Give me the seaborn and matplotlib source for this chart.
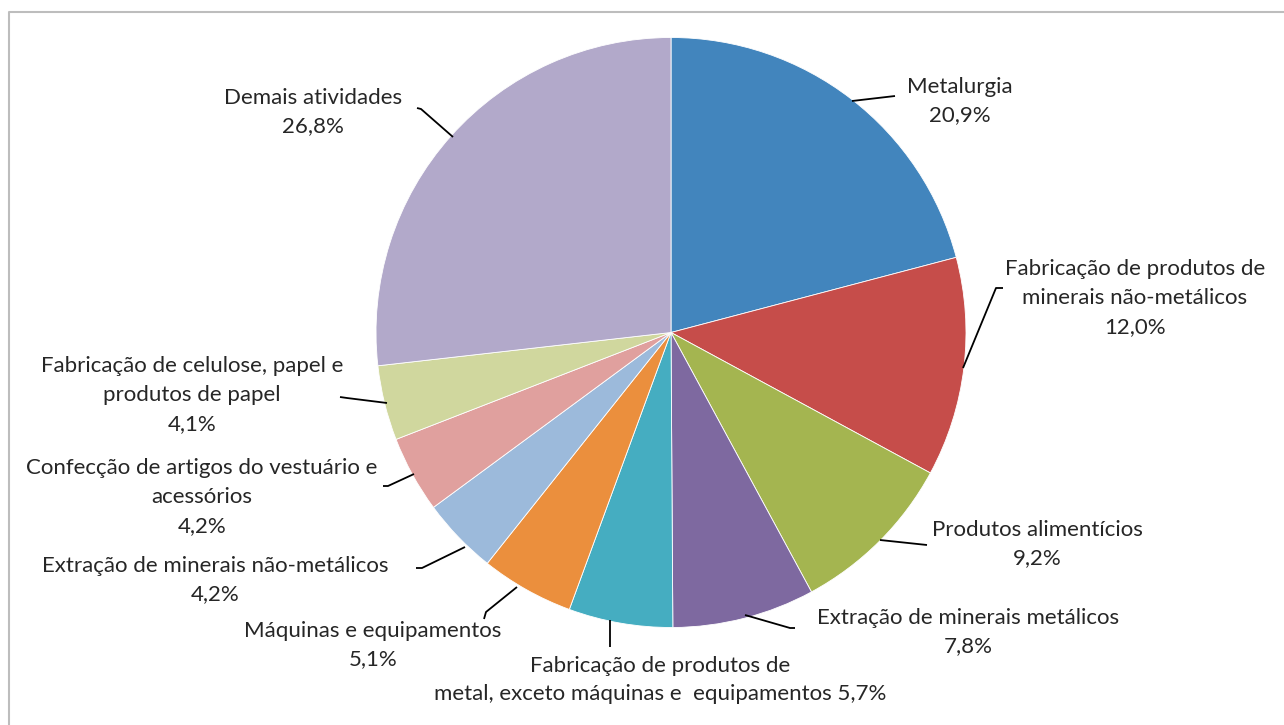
import numpy as np
import matplotlib
matplotlib.use("Agg")
import matplotlib.pyplot as plt
import seaborn as sns

# dados (% por atividade)
categorias = [
    "Metalurgia",
    "Fabricação de produtos de\nminerais não-metálicos",
    "Produtos alimentícios",
    "Extração de minerais metálicos",
    "Fabricação de produtos de\nmetal, exceto máquinas e  equipamentos",
    "Máquinas e equipamentos",
    "Extração de minerais não-metálicos",
    "Confecção de artigos do vestuário e\nacessórios",
    "Fabricação de celulose, papel e\nprodutos de papel",
    "Demais atividades",
]
valores = [20.9, 12.0, 9.2, 7.8, 5.7, 5.1, 4.2, 4.2, 4.1, 26.8]
separador = ["\n", "\n", "\n", "\n", " ", "\n", "\n", "\n", "\n", "\n"]
cores = ["#4285BD", "#C64D4A", "#A4B550", "#7E69A0", "#45ADC1",
         "#EB8F3D", "#9CBADB", "#E0A09E", "#D0D79E", "#B2A9CA"]

# layout (pixels, origem no topo)
W, H = 1284, 725
centro = (671, 332.5)
raio = 295
pos_texto = [(960, 101), (1135, 298), (1037, 544), (968, 632), (660, 680),
             (373, 645), (215, 580), (202, 497), (192, 395), (313, 112)]
guias = [
    [(852, 101), (895, 96)],
    [(963, 368), (996, 288), (1003, 288)],
    [(880, 540), (927, 545)],
    [(745, 615), (790, 628), (795, 628)],
    [(610, 620), (610, 647)],
    [(517, 587), (486, 612), (484, 619)],
    [(465, 547), (422, 568), (416, 568)],
    [(414, 474), (388, 486), (383, 486)],
    [(387, 403), (347, 398), (340, 397)],
    [(453, 137), (421, 109), (417, 108)],
]

sns.set_theme(style="white")
plt.rcParams["font.family"] = ["Lato", "DejaVu Sans"]

fig = plt.figure(figsize=(W / 100, H / 100), dpi=100)
ax = fig.add_axes([0, 0, 1, 1])

ax.pie(valores, colors=cores, startangle=90, counterclock=False,
       center=(centro[0], H - centro[1]), radius=raio,
       wedgeprops=dict(edgecolor="white", linewidth=0.6))
ax.set_xlim(0, W)
ax.set_ylim(0, H)
ax.set_aspect("equal")
ax.set_axis_off()

for nome, v, sep, (tx, ty), g in zip(categorias, valores, separador, pos_texto, guias):
    rotulo = nome + sep + f"{v:.1f}%".replace(".", ",")
    ax.text(tx, H - ty, rotulo, ha="center", va="center", fontsize=16,
            color="#262626", linespacing=1.55)
    xs = [p[0] for p in g]
    ys = [H - p[1] for p in g]
    ax.plot(xs, ys, color="black", lw=1.3, solid_capstyle="butt")

# moldura do gráfico
ax.plot([9, 9, W + 5], [-5, H - 12, H - 12], color="#BDBDBD", lw=1.5, clip_on=False)

fig.savefig("out.png", dpi=100)
